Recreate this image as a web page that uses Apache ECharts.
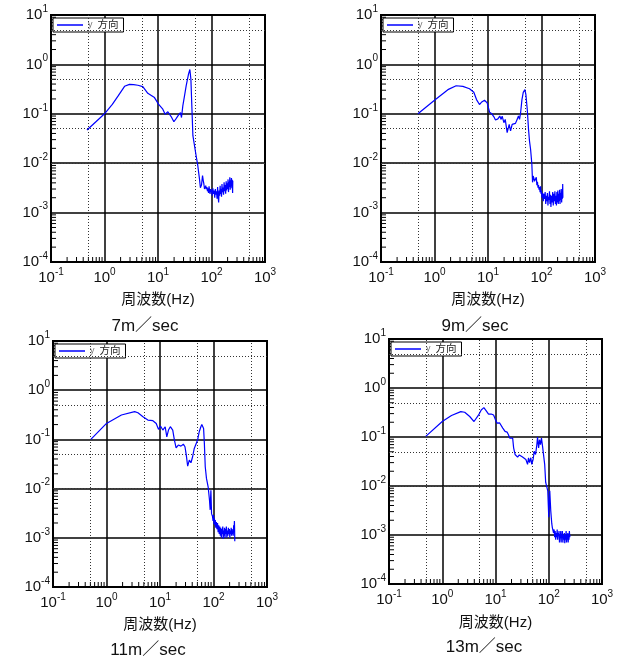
<!DOCTYPE html>
<html><head><meta charset="utf-8">
<script src="https://cdn.jsdelivr.net/npm/echarts@6/dist/echarts.min.js"></script>
<style>html,body{margin:0;padding:0;background:#fff}#c{width:621px;height:657px}</style>
</head><body><div id="c"></div>
<script>
const seriesName = 'y 方向';
const xTicks = [0.1, 1, 10, 100, 1000];
const yTicks = [1e-4, 1e-3, 1e-2, 1e-1, 1, 10];
const dotX = [0.5, 5, 50, 500];
const dotY = [5e-4, 5e-3, 5e-2, 5e-1, 5];
const minorMult = [2, 3, 4, 5, 6, 7, 8, 9];
const titles = ['7m／sec', '9m／sec', '11m／sec', '13m／sec'];
const xName = '周波数(Hz)';

const spec7 = [[0.47,0.047],[0.7,0.07],[1.0,0.1],[1.4,0.155],[1.8,0.23],[2.37,0.36],[2.93,0.395],[3.5,0.39],[4.2,0.378],[5.2,0.355],[6.45,0.26],[7.5,0.235],[8.6,0.213],[10.2,0.157],[12.3,0.124],[13.6,0.098],[15.3,0.11],[16.4,0.098],[17.6,0.088],[18.9,0.094],[19.8,0.069],[21.8,0.080],[24.1,0.094],[26.3,0.106],[27.5,0.084],[29.1,0.145],[31.3,0.23],[33.6,0.366],[35.1,0.395],[37.1,0.63],[39.4,0.79],[41.2,0.5],[43.1,0.124],[44.9,0.036],[48.3,0.039],[51.5,0.0143],[55.4,0.009],[59.6,0.0048],
[62,0.0032],[65,0.0036],[68,0.0056],[70,0.0045],[72,0.0038],[74,0.0030],[76,0.0028],[78,0.0035],[80,0.0030],[82,0.0033],[84,0.0027],[86,0.0031],[88,0.0025],[90,0.0034],[92,0.0028],[94,0.0024],[96,0.0030],[98,0.0026],[100,0.0029],[103,0.0022],[106,0.0031],[109,0.0024],[112,0.0028],[115,0.0020],[118,0.0030],[121,0.0023],[124,0.0027],[127,0.0019],[130,0.0033],[133,0.0021],[136,0.0016],[139,0.0028],[142,0.0022],[145,0.0035],[148,0.0024],[151,0.0030],[154,0.0021],[157,0.0038],[160,0.0026],[164,0.0032],[168,0.0023],[172,0.0041],[176,0.0027],[180,0.0036],[184,0.0024],[188,0.0043],[192,0.0028],[196,0.0039],[200,0.0030],[204,0.0047],[208,0.0026],[212,0.0042],[216,0.0033],[220,0.0052],[224,0.0029],[228,0.0045],[232,0.0034],[236,0.0050],[240,0.0031],[244,0.0046],[248,0.0025],[250,0.0044]];

const spec9 = [[0.49,0.1],[1,0.188],[1.78,0.308],[2.54,0.37],[3.39,0.359],[4.51,0.322],[5.43,0.272],[6.1,0.194],[6.93,0.154],[7.65,0.174],[8.6,0.188],[9.65,0.166],[10.7,0.108],[11.8,0.1],[12.9,0.087],[13.8,0.075],[15.3,0.079],[16.6,0.09],[17.6,0.077],[18.4,0.09],[19.8,0.066],[21,0.077],[22.8,0.0416],[24.9,0.061],[26.4,0.045],[28.3,0.061],[30.4,0.057],[32.6,0.064],[35,0.077],[37.1,0.09],[38.9,0.077],[40.7,0.105],[43.1,0.194],[45.6,0.272],[49,0.308],[51.1,0.244],[54.2,0.122],[57.2,0.0485],[59.6,0.0283],[62.5,0.0192],[64,0.021],[66,0.0096],
[68,0.0041],[70,0.0055],[72,0.0050],[74,0.0043],[76,0.0047],[78,0.0040],[80,0.0052],[82,0.0036],[84,0.0042],[86,0.0032],[88,0.0036],[90,0.0029],[92,0.0033],[94,0.0026],[96,0.0034],[98,0.0024],[100,0.0028],[102,0.0020],[105,0.0025],[108,0.0017],[111,0.0024],[114,0.0019],[117,0.0026],[120,0.0015],[123,0.0022],[126,0.0017],[129,0.0025],[132,0.0014],[135,0.0021],[138,0.0018],[141,0.0027],[144,0.0015],[147,0.0023],[150,0.0013],[154,0.0022],[158,0.0016],[162,0.0026],[166,0.0014],[170,0.0024],[174,0.0017],[178,0.0027],[182,0.0015],[186,0.0022],[190,0.0014],[194,0.0026],[198,0.0016],[202,0.0028],[206,0.0015],[210,0.0024],[214,0.0017],[218,0.0029],[222,0.0015],[226,0.0025],[230,0.0018],[234,0.0030],[238,0.0016],[242,0.0026],[246,0.0019],[249,0.0038],[251,0.0020]];

const spec11 = [[0.51,0.1],[1,0.211],[1.9,0.313],[3.36,0.366],[3.87,0.348],[4.8,0.289],[5.94,0.247],[7.36,0.24],[8.5,0.211],[9.37,0.16],[10.2,0.187],[11.3,0.155],[12.5,0.181],[13.4,0.113],[14.4,0.155],[15.6,0.181],[17.3,0.155],[18.6,0.097],[20,0.0676],[22,0.0767],[24.6,0.073],[27.3,0.08],[29.3,0.071],[31,0.048],[32.9,0.0287],[35.3,0.038],[37.9,0.0335],[40.7,0.0444],[43.7,0.0656],[46.9,0.0607],[50.4,0.097],[54.1,0.143],[58.1,0.181],[60.5,0.2],[63.2,0.218],[65.3,0.167],[67.5,0.083],[70.1,0.0278],[73.9,0.0161],[79.4,0.0109],[84.2,0.0058],[86.6,0.0037],[89.4,0.0093],[92,0.0031],
[96,0.0027],[98,0.0022],[100,0.0029],[102,0.0019],[104,0.0025],[106,0.0018],[108,0.0023],[110,0.0016],[113,0.0021],[116,0.0015],[119,0.0020],[122,0.0013],[125,0.0018],[128,0.0012],[131,0.0017],[134,0.0011],[137,0.0016],[140,0.0010],[143,0.0015],[146,0.0012],[149,0.0017],[152,0.00095],[155,0.0014],[158,0.0011],[161,0.0016],[164,0.0010],[167,0.0015],[170,0.0012],[174,0.0017],[178,0.0010],[182,0.0014],[186,0.0011],[190,0.0016],[194,0.0012],[198,0.0015],[202,0.0010],[206,0.0014],[210,0.0012],[214,0.0016],[218,0.0011],[222,0.0015],[226,0.0012],[230,0.0014],[234,0.0011],[238,0.0018],[242,0.0013],[246,0.0022],[248,0.0015],[250,0.00085]];

const spec13 = [[0.49,0.103],[1,0.207],[1.49,0.274],[2.23,0.33],[2.64,0.32],[3.28,0.262],[3.95,0.207],[4.24,0.21],[4.82,0.282],[5.4,0.356],[6.05,0.397],[6.7,0.34],[7.4,0.292],[8.3,0.295],[9.2,0.282],[10,0.224],[10.7,0.192],[11.9,0.195],[12.8,0.2],[13.7,0.152],[15.1,0.13],[16.5,0.126],[17.5,0.111],[18.5,0.095],[19.5,0.103],[21,0.095],[21.9,0.06],[23.3,0.044],[24.6,0.045],[26,0.0388],[28,0.043],[30,0.041],[32.2,0.039],[34.6,0.041],[37.2,0.0348],[40,0.0276],[41.7,0.0377],[43.6,0.03],[46,0.0377],[48,0.0276],[50.9,0.0348],[53.3,0.0513],[56.5,0.044],[59.8,0.07],[61.6,0.1],[64.5,0.06],[67.1,0.088],[70,0.07],[73,0.095],[76.4,0.065],[78.5,0.07],[83.9,0.0276],[87.6,0.0118],[91.5,0.0109],[95.8,0.008],[100,0.0023],[104.5,0.008],[109,0.00315],
[114,0.0017],[117,0.0014],[120,0.00145],[123,0.0011],[126,0.0013],[129,0.0009],[132,0.0012],[135,0.0008],[138,0.0011],[141,0.0009],[144,0.0013],[147,0.0008],[150,0.0011],[153,0.00095],[156,0.0012],[159,0.0007],[162,0.0010],[165,0.0009],[168,0.0012],[171,0.0007],[174,0.00105],[177,0.0009],[180,0.0012],[184,0.0007],[188,0.0010],[192,0.0008],[196,0.0011],[200,0.00068],[204,0.0010],[208,0.0008],[212,0.0012],[216,0.0007],[220,0.00105],[224,0.0008],[228,0.0011],[232,0.0007],[236,0.0010],[240,0.0008],[244,0.0012],[248,0.0009],[250,0.0010]];

const specs = [spec7, spec9, spec11, spec13];
const layout = [
  {left:51, top:15, width:214, height:247, tx:145, ty:326, ny:300},
  {left:381, top:15, width:214, height:247, tx:475, ty:326, ny:300},
  {left:53, top:341, width:214, height:246, tx:148, ty:650, ny:625},
  {left:389, top:339, width:213, height:245, tx:484, ty:647, ny:623}
];

const FONT = "'Liberation Sans', Arial, 'Noto Sans CJK JP', sans-serif";
const supRich = {
  b: {fontSize: 15, lineHeight: 22, color: '#111', fontFamily: FONT},
  s: {fontSize: 10, lineHeight: 12, verticalAlign: 'top', color: '#111', fontFamily: FONT}
};
const fmt = v => '{b|10}{s|' + Math.round(Math.log10(v)) + '}';

const xMinor = [], yMinor = [];
xTicks.slice(0, -1).forEach(d => minorMult.forEach(m => xMinor.push(d * m)));
yTicks.slice(0, -1).forEach(d => minorMult.forEach(m => yMinor.push(d * m)));

const grid = [], xAxis = [], yAxis = [], series = [], legend = [], graphic = [];
layout.forEach((L, i) => {
  grid.push({left: L.left, top: L.top, width: L.width, height: L.height, show: true, borderColor: '#000', borderWidth: 2, containLabel: false});
  xAxis.push({type: 'log', logBase: 10, gridIndex: i, min: xTicks[0], max: xTicks[xTicks.length-1],
    axisLine: {show: false}, axisTick: {show: false},
    splitLine: {show: true, lineStyle: {color: '#000', width: 1.5}},
    axisLabel: {formatter: fmt, rich: supRich, margin: 5, showMinLabel: true, showMaxLabel: true}});
  yAxis.push({type: 'log', logBase: 10, gridIndex: i, min: yTicks[0], max: yTicks[yTicks.length-1],
    axisLine: {show: false}, axisTick: {show: false},
    splitLine: {show: true, lineStyle: {color: '#000', width: 1.5}},
    axisLabel: {formatter: fmt, rich: supRich, margin: 3, showMinLabel: true, showMaxLabel: true}});
  series.push({type: 'custom', xAxisIndex: i, yAxisIndex: i, silent: true, z: 1, clip: false,
    data: xMinor.map(v => [v, yTicks[0]]),
    renderItem: (p, api) => { const c = api.coord([api.value(0), api.value(1)]);
      return {type: 'line', shape: {x1: c[0], y1: c[1], x2: c[0], y2: c[1] - 5}, style: {stroke: '#000', lineWidth: 1}}; },
    markLine: {silent: true, symbol: 'none', label: {show: false}, animation: false,
      lineStyle: {color: '#333', type: [1, 2], width: 1},
      data: [...dotX.map(v => ({xAxis: v})), ...dotY.map(v => ({yAxis: v}))]}
  });
  series.push({type: 'custom', xAxisIndex: i, yAxisIndex: i, silent: true, z: 1, clip: false,
    data: yMinor.map(v => [xTicks[0], v]),
    renderItem: (p, api) => { const c = api.coord([api.value(0), api.value(1)]);
      return {type: 'line', shape: {x1: c[0], y1: c[1], x2: c[0] + 5, y2: c[1]}, style: {stroke: '#000', lineWidth: 1}}; }
  });
  series.push({type: 'line', name: seriesName, xAxisIndex: i, yAxisIndex: i, z: 5,
    data: specs[i], showSymbol: false, symbol: 'none', animation: false,
    lineStyle: {color: '#0000ff', width: 1.2}, itemStyle: {color: '#0000ff'}});
  legend.push({data: [seriesName], left: L.left + 2, top: L.top + 3, orient: 'horizontal',
    padding: [1, 5, 1, 4], itemWidth: 26, itemHeight: 1.5, icon: 'rect',
    borderColor: '#000', borderWidth: 1, backgroundColor: '#fff', selectedMode: false,
    formatter: n => '{y|' + n.split(' ')[0] + '}{g|}{t|' + n.split(' ')[1] + '}',
    textStyle: {rich: {y: {fontSize: 9, color: '#777', fontFamily: FONT}, g: {width: 5}, t: {fontSize: 10.5, color: '#222', fontFamily: FONT}}}});
  graphic.push({type: 'text', x: L.left + L.width / 2, y: L.ny,
    style: {text: xName, fontSize: 15, fontFamily: FONT, fill: '#111', align: 'center', verticalAlign: 'middle', textAlign: 'center', textVerticalAlign: 'middle'}});
  graphic.push({type: 'text', x: L.tx, y: L.ty,
    style: {text: titles[i], fontSize: 17, fontFamily: FONT, fill: '#111', align: 'center', verticalAlign: 'middle', textAlign: 'center', textVerticalAlign: 'middle'}});
});

const chart = echarts.init(document.getElementById('c'), null, {renderer: 'canvas'});
chart.setOption({animation: false, backgroundColor: '#fff', grid, xAxis, yAxis, series, legend, graphic});
</script></body></html>
